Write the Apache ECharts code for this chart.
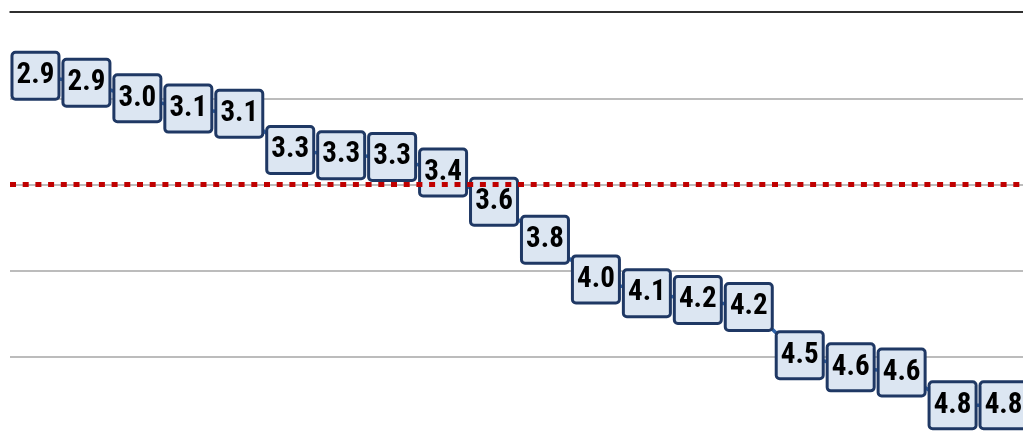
<!DOCTYPE html>
<html>
<head>
<meta charset="utf-8">
<script src="https://cdn.jsdelivr.net/npm/echarts@6/dist/echarts.min.js"></script>
<style>
  html, body { margin: 0; padding: 0; background: #fff; overflow: hidden; }
  #chart { width: 1023px; height: 438px; }
  /* visible text in the label font, placed off screen, so the face is ready for the canvas */
  #fontwarm { position: absolute; left: -300px; top: 0; font-family: "Roboto Condensed", Roboto;
              font-weight: bold; font-size: 29px; line-height: 29px; }
</style>
</head>
<body>
<div id="fontwarm">2.9 3.0 4.8</div>
<div id="chart"></div>
<script>
// 20 ranked items (labels show one decimal)
const categories = ['1','2','3','4','5','6','7','8','9','10','11','12','13','14','15','16','17','18','19','20'];
const values = [2.87, 2.91, 3.00, 3.06, 3.09, 3.30, 3.33, 3.34, 3.43, 3.60,
                3.82, 4.05, 4.13, 4.17, 4.21, 4.49, 4.56, 4.59, 4.78, 4.78];
const refLine = 3.5;

const option = {
  animation: false,
  // plot runs slightly past the bottom and right edges of the canvas
  grid: { left: 10, top: 12, width: 1019, height: 431.25, outerBoundsMode: 'none' },
  xAxis: {
    type: 'category',
    data: categories,
    position: 'top',
    axisLine: { onZero: false, lineStyle: { color: '#000', width: 1.5 } },
    axisTick: { show: false },
    axisLabel: { show: false }
  },
  yAxis: {
    type: 'value',
    inverse: true,
    min: 2.5,
    max: 5.0,
    interval: 0.5,
    axisLine: { show: false },
    axisTick: { show: false },
    axisLabel: { show: false },
    splitLine: { lineStyle: { color: '#a6a6a6', width: 1.5 } }
  },
  series: [
    {
      type: 'line',
      data: values,
      symbol: 'circle',
      symbolSize: 2,
      itemStyle: { color: '#2e62a8' },
      lineStyle: { color: '#2e62a8', width: 3.5 },
      z: 2,
      label: {
        show: true,
        position: 'inside',
        formatter: p => p.value.toFixed(1),
        fontFamily: '"Roboto Condensed", Roboto',
        fontWeight: 'bold',
        fontSize: 29,
        color: '#000',
        backgroundColor: '#dce6f2',
        borderColor: '#1f3864',
        borderWidth: 3,
        borderRadius: 2,
        width: 44,
        height: 44,
        lineHeight: 44,
        align: 'center',
        verticalAlign: 'middle'
      },
      markLine: {
        silent: true,
        symbol: 'none',
        z: 5,
        label: { show: false },
        lineStyle: { color: '#c00000', width: 5, type: [6, 6.7], cap: 'butt' },
        data: [{ yAxis: refLine }]
      }
    }
  ]
};

const chart = echarts.init(document.getElementById('chart'));
chart.setOption(option);

// draw again once the face is surely in place
document.fonts.ready.then(() => {
  chart.clear();
  chart.setOption(option);
});
</script>
</body>
</html>
